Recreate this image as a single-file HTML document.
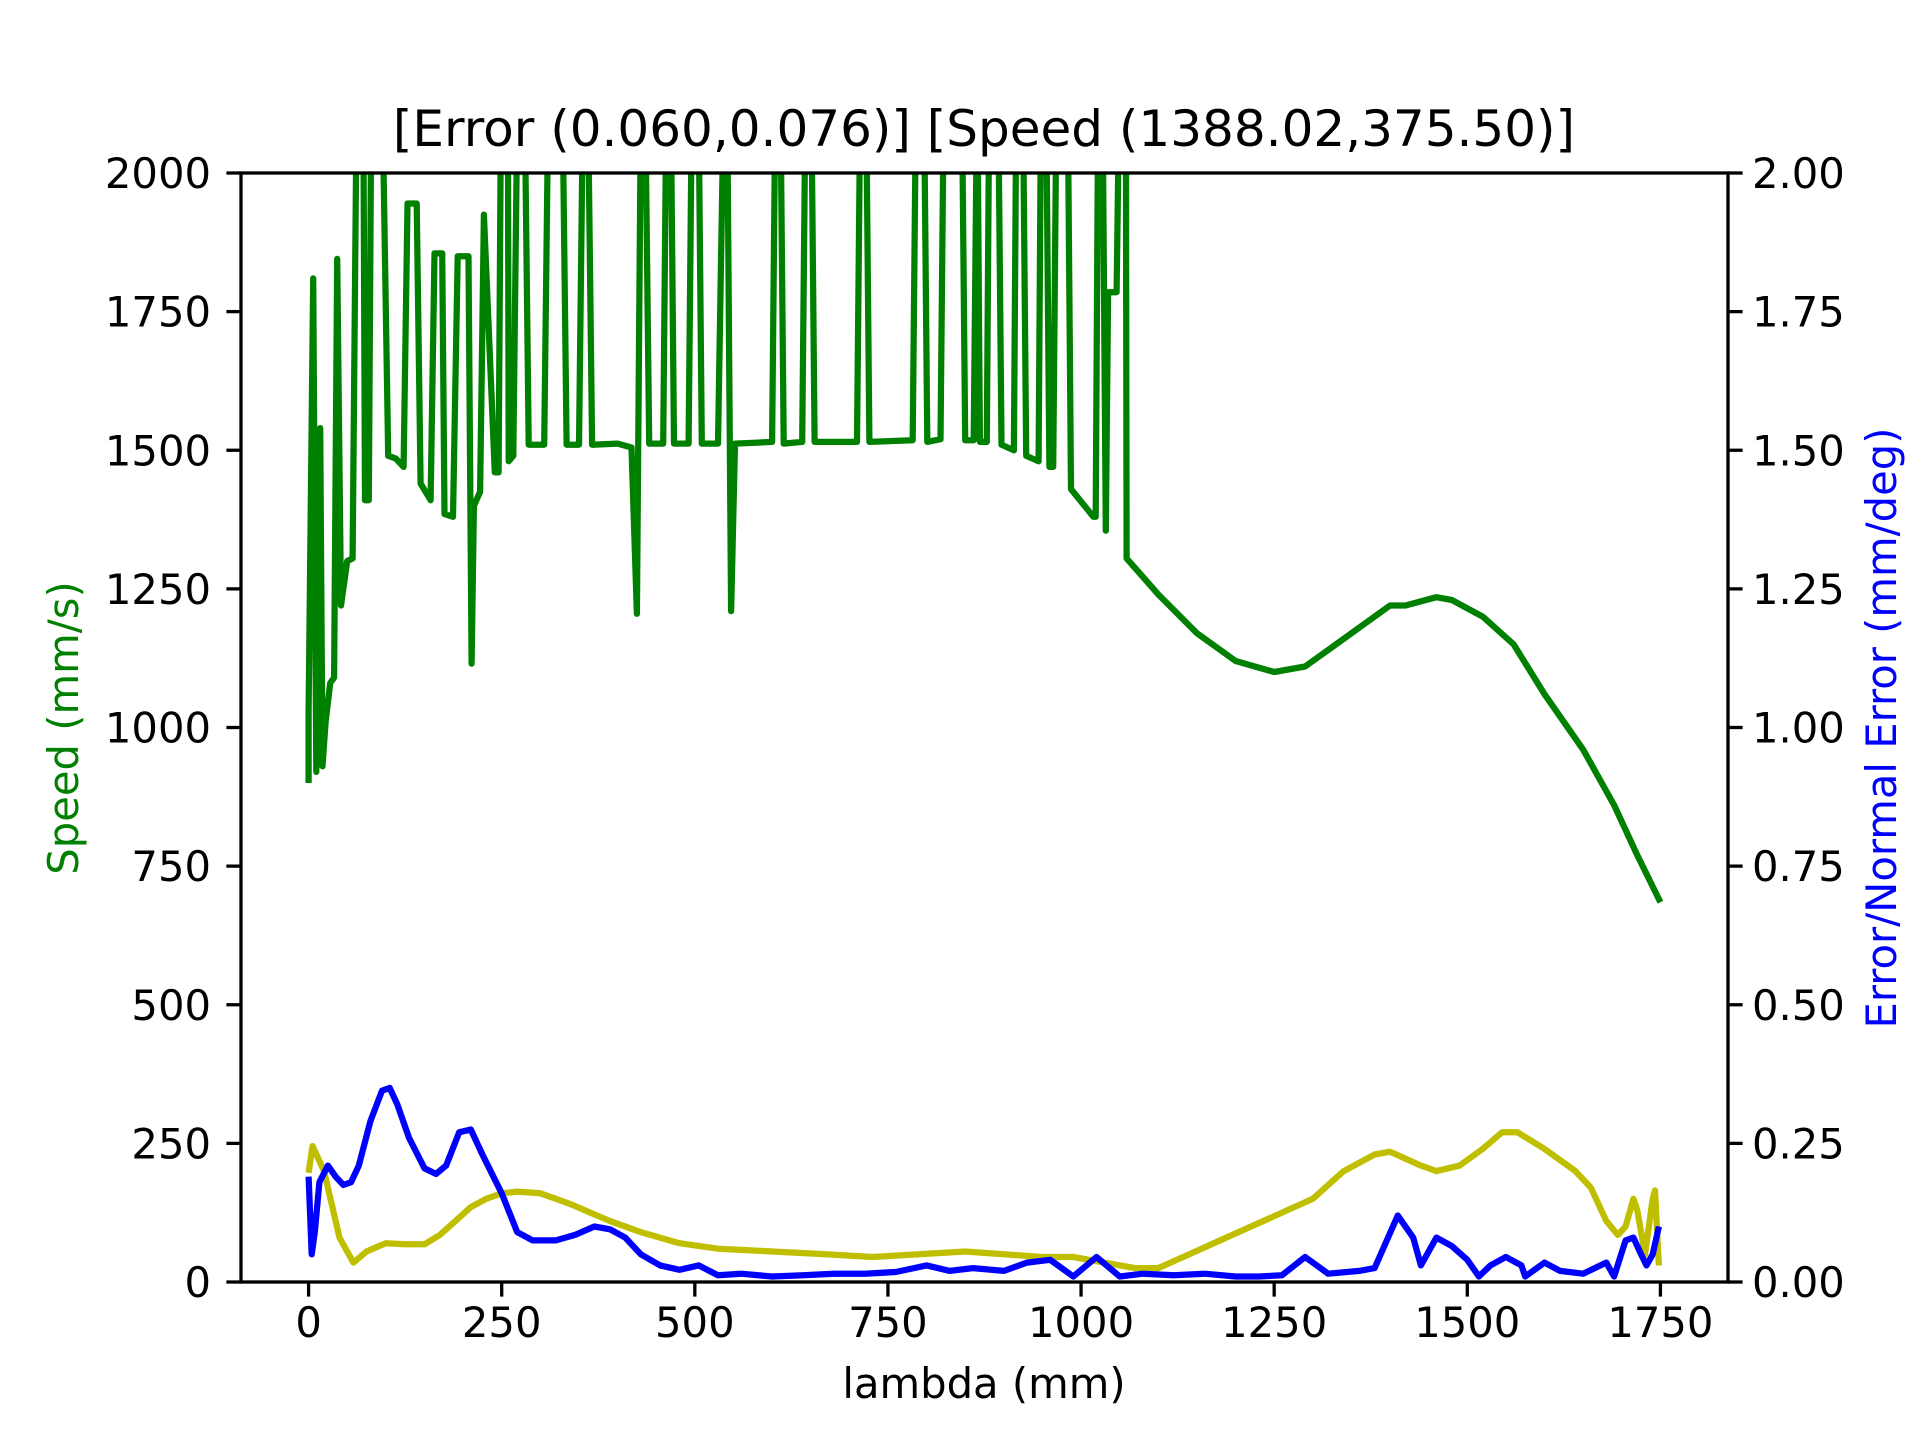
<!DOCTYPE html>
<html><head><meta charset="utf-8">
<style>
html,body{margin:0;padding:0;background:#fff;}
svg{display:block;font-family:"DejaVu Sans","Liberation Sans",sans-serif;}
</style></head>
<body>
<svg id="chart" width="1920" height="1440" viewBox="0 0 1920 1440" xmlns="http://www.w3.org/2000/svg">
<rect width="1920" height="1440" fill="#fff"/>
<defs><clipPath id="clip"><rect x="241" y="173" width="1487" height="1109"/></clipPath></defs>
<text x="984" y="146" font-size="50" text-anchor="middle">[Error (0.060,0.076)] [Speed (1388.02,375.50)]</text>
<text x="984" y="1398" font-size="41.7" text-anchor="middle">lambda (mm)</text>
<text transform="translate(78,728) rotate(-90)" font-size="41.7" fill="green" text-anchor="middle">Speed (mm/s)</text>
<text transform="translate(1896,728) rotate(-90)" font-size="41.7" fill="blue" text-anchor="middle">Error/Normal Error (mm/deg)</text>
<g id="marks" clip-path="url(#clip)"></g>
<g id="axes"></g>
</svg>
<script>
const speedX=[0,0,6,10,15,18,22,28,33,37,42,50,57,62,71,73,78,81,96,103,113,123,128,140,145,158,163,173,176,187,193,207,211,214,222,227,241,246,249,258,259,265,270,280,285,305,310,329,334,350,355,362,367,400,418,425,430,436,441,459,463,469,473,492,496,505,509,530,537,542,547,552,600,604,611,615,639,643,651,655,710,714,722,726,782,786,797,801,818,822,846,850,861,865,866,869,878,881,893,897,913,916,925,929,945,948,955,959,964,968,983,987,1016,1019,1022,1028,1032,1035,1046,1049,1058,1059,1100,1150,1200,1250,1290,1340,1400,1420,1460,1480,1520,1560,1600,1650,1690,1720,1750];
const speedY=[900,1030,1810,920,1540,930,1010,1080,1090,1845,1220,1300,1305,2100,2100,1410,1410,2100,2100,1490,1485,1470,1945,1945,1440,1410,1855,1855,1385,1380,1850,1850,1115,1400,1425,1925,1460,1460,2100,2100,1480,1490,2100,2100,1510,1510,2100,2100,1510,1510,2100,2100,1510,1512,1505,1205,2100,2100,1512,1512,2100,2100,1512,1512,2100,2100,1512,1512,2100,2100,1210,1512,1515,2100,2100,1512,1515,2100,2100,1515,1515,2100,2100,1515,1518,2100,2100,1515,1520,2100,2100,1518,1518,2100,2100,1515,1515,2100,2100,1510,1500,2100,2100,1490,1480,2100,2100,1470,1470,2100,2100,1430,1380,1380,2100,2100,1355,1785,1785,2100,2100,1305,1240,1170,1120,1100,1110,1160,1220,1220,1235,1230,1200,1150,1060,960,860,770,685];
const normX=[0,5,20,40,58,75,100,125,150,170,190,210,230,250,270,300,320,340,365,390,430,480,530,600,670,730,790,850,900,950,990,1030,1070,1100,1140,1180,1220,1260,1300,1340,1380,1400,1440,1460,1490,1520,1545,1565,1600,1640,1660,1680,1695,1705,1715,1720,1730,1740,1743,1748];
const normY=[0.197,0.245,0.2,0.08,0.035,0.055,0.07,0.068,0.068,0.085,0.11,0.135,0.15,0.16,0.163,0.16,0.15,0.14,0.125,0.11,0.09,0.07,0.06,0.055,0.05,0.045,0.05,0.055,0.05,0.045,0.045,0.035,0.025,0.025,0.05,0.075,0.1,0.125,0.15,0.2,0.23,0.235,0.21,0.2,0.21,0.24,0.27,0.27,0.24,0.2,0.17,0.11,0.085,0.1,0.15,0.13,0.05,0.15,0.165,0.03];
const errX=[0,4,8,14,25,35,45,55,65,80,95,105,115,130,150,165,178,195,210,225,250,270,290,320,345,370,390,410,430,455,480,505,530,560,600,640,680,720,760,800,830,860,900,930,960,990,1020,1050,1080,1120,1160,1200,1230,1260,1290,1320,1360,1380,1410,1430,1440,1460,1480,1500,1515,1530,1550,1570,1575,1600,1620,1650,1680,1690,1705,1715,1725,1732,1740,1748];
const errY=[0.19,0.05,0.09,0.18,0.21,0.19,0.175,0.18,0.21,0.29,0.345,0.35,0.32,0.26,0.205,0.195,0.21,0.27,0.275,0.23,0.16,0.09,0.075,0.075,0.085,0.1,0.095,0.08,0.05,0.03,0.022,0.03,0.012,0.015,0.01,0.012,0.015,0.015,0.018,0.03,0.02,0.025,0.02,0.035,0.04,0.01,0.045,0.01,0.015,0.012,0.015,0.01,0.01,0.012,0.045,0.015,0.02,0.025,0.12,0.08,0.03,0.08,0.065,0.04,0.01,0.03,0.045,0.03,0.01,0.035,0.02,0.015,0.035,0.01,0.075,0.08,0.05,0.03,0.05,0.1];
const xTicks=[0,250,500,750,1000,1250,1500,1750];
const yLeftTicks=[0,250,500,750,1000,1250,1500,1750,2000];
const yRightTicks=[0,0.25,0.5,0.75,1.0,1.25,1.5,1.75,2.0];

const L=241,R=1728,T=173,B=1282,XMIN=-87.5,XMAX=1837.5;
const sx=v=>L+(v-XMIN)/(XMAX-XMIN)*(R-L);
const syL=v=>B-v/2000*(B-T);
const syR=v=>B-v/2*(B-T);
const NS="http://www.w3.org/2000/svg";
const marks=document.getElementById('marks'), axes=document.getElementById('axes');
function mk(tag,attrs,parent){const e=document.createElementNS(NS,tag);for(const k in attrs)e.setAttribute(k,attrs[k]);parent.appendChild(e);return e;}
function line(xs,ys,fy,color,name){
  const d=xs.map((x,i)=>(i?'L':'M')+sx(x).toFixed(1)+','+fy(ys[i]).toFixed(1)).join(' ');
  const p=mk('path',{d:d,fill:'none',stroke:color,'stroke-width':6.25,'stroke-linejoin':'round'},marks);
  
  
}
line(speedX,speedY,syL,'green','speed-line');
line(normX,normY,syR,'#bfbf00','normal-error-line');
line(errX,errY,syR,'blue','error-line');

const frame=mk('rect',{x:L,y:T,width:R-L,height:B-T,fill:'none',stroke:'#000','stroke-width':3.3},axes);


xTicks.forEach(v=>{
  const x=sx(v);
  mk('line',{x1:x,y1:B,x2:x,y2:B+14.6,stroke:'#000','stroke-width':3.3},axes);
  const t=mk('text',{x:x,y:B+55,'font-size':41.7,'text-anchor':'middle'},axes);t.textContent=v;
  
  
});
yLeftTicks.forEach(v=>{
  const y=syL(v);
  mk('line',{x1:L,y1:y,x2:L-14.6,y2:y,stroke:'#000','stroke-width':3.3},axes);
  const t=mk('text',{x:L-30,y:y+15,'font-size':41.7,'text-anchor':'end'},axes);t.textContent=v;
  
  
});
yRightTicks.forEach(v=>{
  const y=syR(v);
  mk('line',{x1:R,y1:y,x2:R+14.6,y2:y,stroke:'#000','stroke-width':3.3},axes);
  const t=mk('text',{x:R+24,y:y+15,'font-size':41.7,'text-anchor':'start'},axes);t.textContent=v.toFixed(2);
  
  
});
</script>
</body></html>
